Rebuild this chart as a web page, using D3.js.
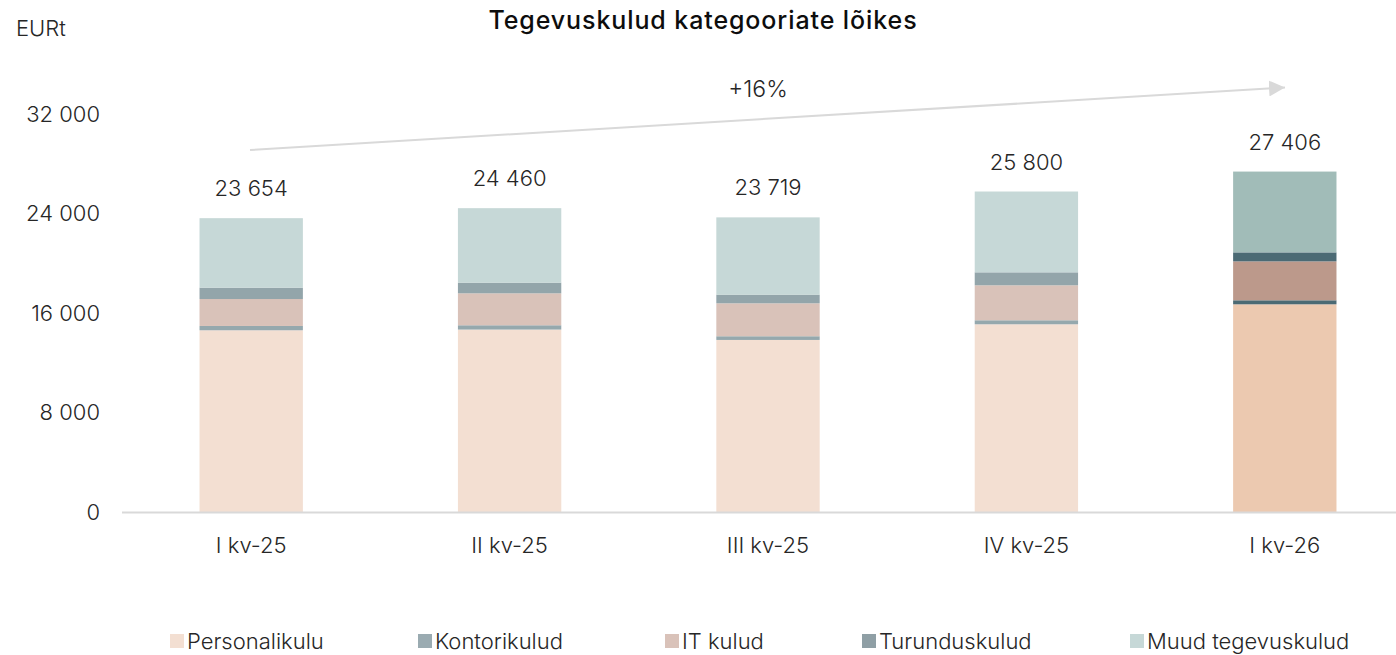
<!DOCTYPE html>
<html>
<head>
<meta charset="utf-8">
<script src="https://cdn.jsdelivr.net/npm/d3@7"></script>
<style>
  body { margin: 0; background: #fff; }
  svg { display: block; font-family: Inter, "Liberation Sans", Arial, sans-serif; font-weight: 300; }
</style>
</head>
<body>
<div id="chart"></div>
<script>
// data
const quarters = ["I kv-25", "II kv-25", "III kv-25", "IV kv-25", "I kv-26"];
const seriesNames = ["Personalikulu", "Kontorikulud", "IT kulud", "Turunduskulud", "Muud tegevuskulud"];
const personalikulu = [14630, 14686, 13851, 15113, 16720];
const kontorikulud = [346, 346, 297, 322, 322];
const itKulud = [2170, 2572, 2653, 2814, 3135];
const turunduskulud = [916, 860, 699, 1045, 723];
const muudKulud = [5592, 5996, 6219, 6506, 6506];
const totals = [23654, 24460, 23719, 25800, 27406];
const yTicks = [0, 8000, 16000, 24000, 32000];
const growthLabel = "+16%";

(function () {
  const width = 1396;
  const height = 655;

  const colors = {
    "Personalikulu": "#f3dfd2",
    "Kontorikulud": "#95a8ad",
    "IT kulud": "#d9c2b9",
    "Turunduskulud": "#93a5aa",
    "Muud tegevuskulud": "#c6d8d7"
  };
  // last quarter is drawn darker
  const colorsLast = {
    "Personalikulu": "#ecc9b0",
    "Kontorikulud": "#4b6a74",
    "IT kulud": "#bc998b",
    "Turunduskulud": "#4b6a74",
    "Muud tegevuskulud": "#a1bcb8"
  };
  const legendColors = {
    "Personalikulu": "#f3dfd2",
    "Kontorikulud": "#9aabb1",
    "IT kulud": "#d9c2b9",
    "Turunduskulud": "#8f9fa5",
    "Muud tegevuskulud": "#c6d8d7"
  };

  const rows = quarters.map((q, i) => ({
    quarter: q,
    "Personalikulu": personalikulu[i],
    "Kontorikulud": kontorikulud[i],
    "IT kulud": itKulud[i],
    "Turunduskulud": turunduskulud[i],
    "Muud tegevuskulud": muudKulud[i],
    total: totals[i]
  }));

  const stacked = d3.stack().keys(seriesNames)(rows);
  const fmt = (v) => d3.format(",")(v).replace(/,/g, " ");

  const svg = d3
    .select("#chart")
    .append("svg")
    .attr("width", width)
    .attr("height", height);

  // scales
  const xScale = d3
    .scaleBand()
    .domain(quarters)
    .range([122, 1414])
    .paddingInner(0.6)
    .paddingOuter(0.3);

  const yScale = d3.scaleLinear().domain([0, 32000]).range([512, 114.5]);

  // title
  svg
    .append("text")
    .attr("x", 703)
    .attr("y", 29)
    .attr("text-anchor", "middle")
    .attr("font-size", "25px")
    .attr("font-weight", 500)
    .attr("letter-spacing", "0.9px")
    .attr("fill", "#0d0d0d")
    .text("Tegevuskulud kategooriate lõikes");

  svg
    .append("text")
    .attr("x", 16)
    .attr("y", 36)
    .attr("font-size", "22px")
    .attr("fill", "#262626")
    .text("EURt");

  // y axis labels only
  const yAxis = svg
    .append("g")
    .attr("transform", "translate(100,0)")
    .call(
      d3
        .axisLeft(yScale)
        .tickValues(yTicks)
        .tickSize(0)
        .tickPadding(0)
        .tickFormat(fmt)
    )
    .attr("font-family", null)
    .attr("font-size", null);
  yAxis.select(".domain").remove();
  yAxis
    .selectAll(".tick text")
    .attr("font-size", "22px")
    .attr("fill", "#262626");

  // bars
  svg
    .append("g")
    .selectAll("g")
    .data(stacked)
    .enter()
    .append("g")
    .selectAll("rect")
    .data((s) => s.map((d) => ({ key: s.key, d: d })))
    .enter()
    .append("rect")
    .attr("x", (d) => xScale(d.d.data.quarter))
    .attr("y", (d) => yScale(d.d[1]))
    .attr("width", xScale.bandwidth())
    .attr("height", (d) => yScale(d.d[0]) - yScale(d.d[1]))
    .attr("fill", (d) =>
      d.d.data.quarter === "I kv-26" ? colorsLast[d.key] : colors[d.key]
    );

  // x axis
  svg
    .append("line")
    .attr("x1", 122)
    .attr("x2", width)
    .attr("y1", yScale(0) + 0.5)
    .attr("y2", yScale(0) + 0.5)
    .attr("stroke", "#d9d9d9")
    .attr("stroke-width", 2);

  svg
    .append("g")
    .selectAll("text")
    .data(quarters)
    .enter()
    .append("text")
    .attr("x", (d) => xScale(d) + xScale.bandwidth() / 2)
    .attr("y", 553)
    .attr("text-anchor", "middle")
    .attr("font-size", "22px")
    .attr("fill", "#262626")
    .text((d) => d);

  // total labels
  svg
    .append("g")
    .selectAll("text")
    .data(rows)
    .enter()
    .append("text")
    .attr("x", (d) => xScale(d.quarter) + xScale.bandwidth() / 2)
    .attr("y", (d) => yScale(d.total) - 22)
    .attr("text-anchor", "middle")
    .attr("font-size", "22px")
    .attr("fill", "#262626")
    .text((d) => fmt(d.total));

  // growth arrow
  svg
    .append("defs")
    .append("marker")
    .attr("id", "arrowhead")
    .attr("viewBox", "0 0 10 10")
    .attr("refX", 10)
    .attr("refY", 5)
    .attr("markerWidth", 8)
    .attr("markerHeight", 8)
    .attr("markerUnits", "strokeWidth")
    .attr("orient", "auto")
    .append("path")
    .attr("d", "M0,0 L10,5 L0,10 Z")
    .attr("fill", "#d9d9d9");

  svg
    .append("line")
    .attr("x1", 250)
    .attr("y1", 150)
    .attr("x2", 1285)
    .attr("y2", 87.5)
    .attr("stroke", "#d9d9d9")
    .attr("stroke-width", 2)
    .attr("marker-end", "url(#arrowhead)");

  svg
    .append("text")
    .attr("x", 758)
    .attr("y", 97)
    .attr("text-anchor", "middle")
    .attr("font-size", "23px")
    .attr("fill", "#262626")
    .text(growthLabel);

  // legend
  const legendX = [170, 418, 665, 862, 1130];
  const legend = svg
    .append("g")
    .selectAll("g")
    .data(seriesNames)
    .enter()
    .append("g")
    .attr("transform", (d, i) => `translate(${legendX[i]},634)`);

  legend
    .append("rect")
    .attr("width", 14)
    .attr("height", 14)
    .attr("fill", (d) => legendColors[d]);

  legend
    .append("text")
    .attr("x", 17)
    .attr("y", 15)
    .attr("font-size", "22px")
    .attr("fill", "#262626")
    .text((d) => d);
})();
</script>
</body>
</html>
